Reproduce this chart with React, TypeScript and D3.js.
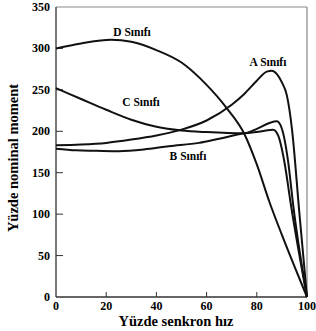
import * as d3 from 'd3'

type Pt = [number, number]

// speed (%) vs torque (%)
const classA: Pt[] = [
  [0, 183], [10, 184], [20, 186], [30, 190], [40, 195], [50, 202], [60, 213],
  [70, 232], [75, 245], [80, 261], [84, 272], [86, 273], [88, 269], [90, 259],
  [92, 243], [94, 203], [97, 100], [100, 0],
]
const classB: Pt[] = [
  [0, 179], [8, 177], [16, 176.5], [25, 176], [35, 178], [45, 182], [57, 186],
  [65, 191], [75, 197.5], [82, 200], [86.5, 202], [88.5, 195], [91, 163],
  [93.6, 111], [100, 0],
]
const classC: Pt[] = [
  [0, 252], [10, 239], [20, 226], [30, 214], [40, 205.5], [50, 201], [60, 199],
  [75, 197.5], [80, 203], [85, 210], [88, 212], [90, 203], [92.5, 163],
  [94.5, 111], [100, 0],
]
const classD: Pt[] = [
  [0, 300], [10, 306], [22, 310.5], [30, 308], [40, 298], [50, 283], [60, 256],
  [68, 228], [75, 197], [80, 160], [85, 115], [90, 75], [95, 37], [100, 0],
]

const curves = [classA, classB, classC, classD]

const labels = [
  { text: 'D Sınıfı', x: 132, y: 36 },
  { text: 'C Sınıfı', x: 141, y: 106 },
  { text: 'A Sınıfı', x: 268, y: 66 },
  { text: 'B Sınıfı', x: 188, y: 160 },
]

const xTicks = [0, 20, 40, 60, 80, 100]
const yTicks = [0, 50, 100, 150, 200, 250, 300, 350]

const W = 316
const H = 331
const left = 56
const right = 307
const top = 7
const bottom = 297

export default function App() {
  const x = d3.scaleLinear().domain([0, 100]).range([left, right])
  const y = d3.scaleLinear().domain([0, 350]).range([bottom, top])
  const line = d3
    .line<Pt>()
    .x(d => x(d[0]))
    .y(d => y(d[1]))
    .curve(d3.curveMonotoneX)

  const font = '"Liberation Serif", "Times New Roman", serif'

  return (
    <svg
      width={W}
      height={H}
      style={{ position: 'absolute', left: 0, top: 0, background: '#fff' }}
      fontFamily={font}
      fontWeight="bold"
    >
      {/* frame */}
      <line x1={left} x2={right} y1={top} y2={top} stroke="#888" strokeWidth={1.2} />
      <line x1={right} x2={right} y1={top} y2={bottom} stroke="#888" strokeWidth={1.2} />
      <line x1={left} x2={left} y1={top} y2={bottom} stroke="#333" strokeWidth={1.3} />
      <line x1={left} x2={right} y1={bottom} y2={bottom} stroke="#333" strokeWidth={1.3} />

      {/* y ticks */}
      {yTicks.map(t => (
        <g key={'y' + t}>
          {t > 0 && t < 350 && (
            <line x1={left} x2={left + 7} y1={y(t)} y2={y(t)} stroke="#333" strokeWidth={1} />
          )}
          <text x={left - 6} y={y(t) + 4} textAnchor="end" fontSize={12}>
            {t}
          </text>
        </g>
      ))}

      {/* x ticks */}
      {xTicks.map(t => (
        <g key={'x' + t}>
          {t > 0 && t < 100 && (
            <line x1={x(t)} x2={x(t)} y1={bottom} y2={bottom - 5} stroke="#333" strokeWidth={1} />
          )}
          <text x={x(t)} y={bottom + 13} textAnchor="middle" fontSize={12}>
            {t}
          </text>
        </g>
      ))}

      {/* curves */}
      {curves.map((c, i) => (
        <path key={i} d={line(c) || ''} fill="none" stroke="#111" strokeWidth={2} />
      ))}

      {/* curve labels */}
      {labels.map(l => (
        <text key={l.text} x={l.x} y={l.y} textAnchor="middle" fontSize={11.5}>
          {l.text}
        </text>
      ))}

      {/* axis titles */}
      <text x={176} y={326} textAnchor="middle" fontSize={14.5}>
        Yüzde senkron hız
      </text>
      <text
        transform={`translate(18, 158) rotate(-90)`}
        textAnchor="middle"
        fontSize={14.5}
      >
        Yüzde nominal moment
      </text>
    </svg>
  )
}
